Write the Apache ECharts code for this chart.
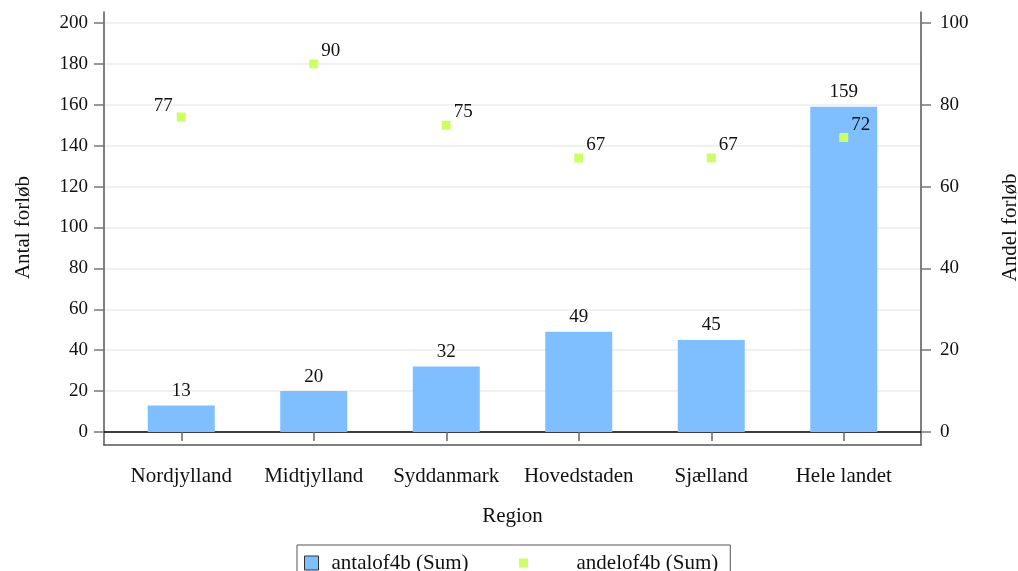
<!DOCTYPE html>
<html>
<head>
<meta charset="utf-8">
<script src="https://cdn.jsdelivr.net/npm/echarts@6/dist/echarts.min.js"></script>
<style>
html,body{margin:0;padding:0;background:#fff;}
#chart{width:1018px;height:571px;}
</style>
</head>
<body>
<div id="chart"></div>
<script>
const categories = ['Nordjylland','Midtjylland','Syddanmark','Hovedstaden','Sjælland','Hele landet'];
const antalValues = [13, 20, 32, 49, 45, 159];
const andelValues = [77, 90, 75, 67, 67, 72];
const leftTicks = {min: 0, max: 200, interval: 20};
const rightTicks = {min: 0, max: 100, interval: 20};
const seriesNames = ['antalof4b (Sum)', 'andelof4b (Sum)'];
const axisTitles = {left: 'Antal forløb', right: 'Andel forløb', bottom: 'Region'};

const FONT = '"Liberation Serif", "DejaVu Serif", serif';
const TXT = '#111';
const chart = echarts.init(document.getElementById('chart'), null, {renderer: 'canvas'});

const andelData = andelValues.map((v, i) => {
  const lab = i === 0
    ? {position: 'left', offset: [0, -11], distance: 4, color: TXT}
    : {position: 'right', offset: [0, -13], distance: 3, color: TXT};
  return {value: v, label: lab};
});

const hiddenAxis = {show: false};

chart.setOption({
  animation: false,
  backgroundColor: '#fff',
  textStyle: {fontFamily: FONT, color: TXT},
  grid: [
    {left: 104, right: 97, top: 12, bottom: 126, outerBoundsMode: 'none', containLabel: false},
    {left: 104, right: 97, top: 23, bottom: 139, outerBoundsMode: 'none', containLabel: false},
    {left: 115, right: 108, top: 23, bottom: 139, outerBoundsMode: 'none', containLabel: false}
  ],
  legend: {
    left: 297, top: 545,
    padding: [7, 12, 12, 7],
    borderColor: '#555', borderWidth: 1,
    itemWidth: 14, itemHeight: 14, itemGap: 48,
    textStyle: {fontFamily: FONT, fontSize: 21, color: TXT, lineHeight: 22},
    data: [
      {name: seriesNames[0], icon: 'rect', itemStyle: {color: '#80bfff', borderColor: '#333', borderWidth: 1}, textStyle: {padding: [0, 0, 0, 8]}},
      {name: seriesNames[1], icon: 'path://M0,0 M14,14 M2.5,2.5h9v9h-9z', itemStyle: {color: '#ccff66'}, textStyle: {padding: [0, 0, 0, 41]}}
    ]
  },
  xAxis: [
    {gridIndex: 0, type: 'category', data: categories,
     axisLine: {show: true, lineStyle: {color: '#555', width: 1.5}},
     axisTick: {show: false}, axisLabel: {show: false}, splitLine: {show: false}},
    {gridIndex: 1, type: 'category', data: categories,
     axisLine: {show: true, lineStyle: {color: '#000', width: 1.5}},
     axisTick: {show: false}, axisLabel: {show: false}, splitLine: {show: false}},
    {gridIndex: 2, type: 'category', data: categories, offset: 13,
     axisLine: {show: false},
     axisTick: {show: true, alignWithLabel: true, interval: 0, length: 9, lineStyle: {color: '#666', width: 1.5}},
     axisLabel: {interval: 0, fontFamily: FONT, fontSize: 21, color: TXT, margin: 21},
     name: axisTitles.bottom, nameLocation: 'middle', nameGap: 61,
     nameTextStyle: {fontFamily: FONT, fontSize: 21, color: TXT}}
  ],
  yAxis: [
    {gridIndex: 0, type: 'value', min: 0, max: 1, position: 'left',
     axisLine: {show: true, lineStyle: {color: '#555', width: 1.5}},
     axisTick: {show: false}, axisLabel: {show: false}, splitLine: {show: false}},
    {gridIndex: 0, type: 'value', min: 0, max: 1, position: 'right',
     axisLine: {show: true, lineStyle: {color: '#555', width: 1.5}},
     axisTick: {show: false}, axisLabel: {show: false}, splitLine: {show: false}},
    {gridIndex: 1, type: 'value', position: 'left',
     min: leftTicks.min, max: leftTicks.max, interval: leftTicks.interval,
     axisLine: {show: false},
     axisTick: {show: true, length: 10, lineStyle: {color: '#777', width: 1.5}},
     axisLabel: {fontFamily: FONT, fontSize: 19, color: TXT, margin: 16},
     splitLine: {show: true, lineStyle: {color: '#ececec', width: 1.5}},
     name: axisTitles.left, nameLocation: 'middle', nameGap: 70, nameRotate: 90,
     nameTextStyle: {fontFamily: FONT, fontSize: 21, color: TXT}},
    {gridIndex: 1, type: 'value', position: 'right',
     min: rightTicks.min, max: rightTicks.max, interval: rightTicks.interval,
     axisLine: {show: false},
     axisTick: {show: true, length: 10, lineStyle: {color: '#777', width: 1.5}},
     axisLabel: {fontFamily: FONT, fontSize: 19, color: TXT, margin: 19},
     splitLine: {show: false},
     name: axisTitles.right, nameLocation: 'middle', nameGap: 79, nameRotate: 90,
     nameTextStyle: {fontFamily: FONT, fontSize: 21, color: TXT}},
    Object.assign({gridIndex: 2, type: 'value', min: leftTicks.min, max: leftTicks.max}, hiddenAxis),
    Object.assign({gridIndex: 2, type: 'value', min: rightTicks.min, max: rightTicks.max, position: 'right'}, hiddenAxis)
  ],
  series: [
    {name: seriesNames[0], type: 'bar', xAxisIndex: 2, yAxisIndex: 4,
     data: antalValues, barWidth: 67,
     itemStyle: {color: '#80bfff'},
     label: {show: true, position: 'top', distance: 5, fontFamily: FONT, fontSize: 19, color: TXT}},
    {name: seriesNames[1], type: 'scatter', xAxisIndex: 2, yAxisIndex: 5,
     data: andelData, symbol: 'rect', symbolSize: 9,
     itemStyle: {color: '#ccff66', opacity: 1}, z: 5,
     label: {show: true, fontFamily: FONT, fontSize: 19, color: TXT}}
  ]
});
</script>
</body>
</html>
